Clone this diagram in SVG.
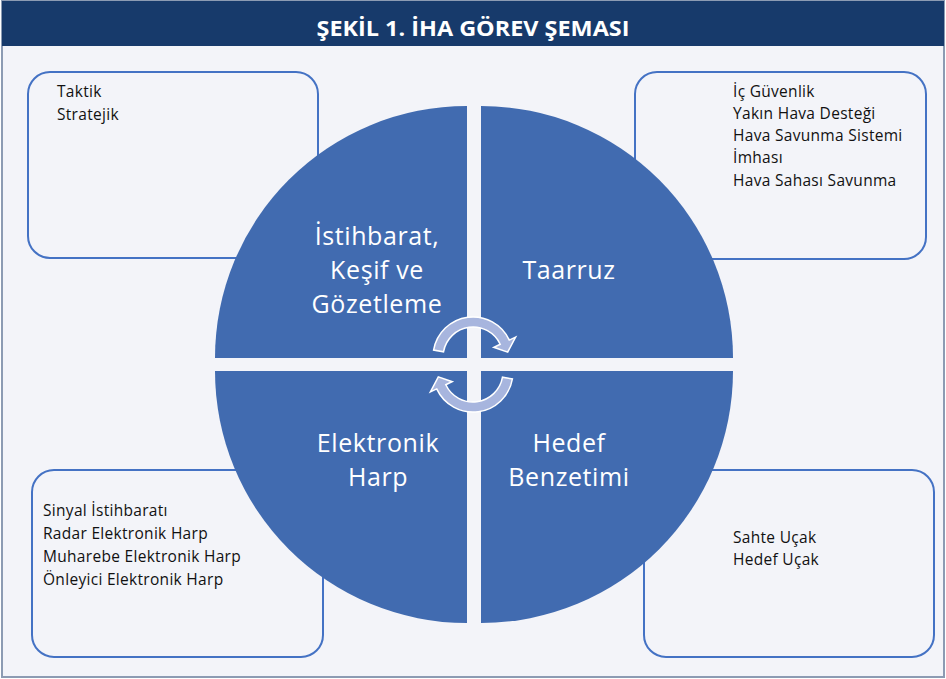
<svg xmlns="http://www.w3.org/2000/svg" width="946" height="679" viewBox="0 0 946 679">
<style>
.frame{fill:#F3F4F9;stroke:#8C9BB3;stroke-width:2}
.box{fill:#F3F4F9;stroke:#4472C4;stroke-width:2}
.quad{fill:#416BB0}
.arrow{fill:#A7B5DE;stroke:#FFFFFF;stroke-width:1.5}
.lbl{font-family:"Open Sans","Noto Sans",sans-serif;font-size:15.5px;letter-spacing:0.3px;fill:#111111}
.ql{font-family:"Open Sans","Noto Sans",sans-serif;font-size:25px;letter-spacing:0.6px;fill:#FFFFFF;text-anchor:middle}
.title{font-family:"Open Sans","Noto Sans",sans-serif;font-size:21px;font-weight:bold;fill:#FFFFFF;text-anchor:middle}
</style>
<rect class="frame" x="2" y="1" width="942" height="676"/>
<g id="header">
<rect x="2" y="1" width="942" height="45" fill="#173A6B"/>
<text class="title" x="473" y="36" textLength="313" lengthAdjust="spacingAndGlyphs">ŞEKİL 1. İHA GÖREV ŞEMASI</text>
</g>
<g id="box-tl">
<rect class="box" x="28" y="72" width="290" height="186" rx="22"/>
<text class="lbl" x="57" y="97">Taktik</text>
<text class="lbl" x="57" y="120">Stratejik</text>
</g>
<g id="box-tr">
<rect class="box" x="635" y="72" width="291" height="187" rx="22"/>
<text class="lbl" x="733" y="97">İç Güvenlik</text>
<text class="lbl" x="733" y="119">Yakın Hava Desteği</text>
<text class="lbl" x="733" y="141">Hava Savunma Sistemi</text>
<text class="lbl" x="733" y="162.5">İmhası</text>
<text class="lbl" x="733" y="186">Hava Sahası Savunma</text>
</g>
<g id="box-bl">
<rect class="box" x="32" y="470" width="291" height="187" rx="22"/>
<text class="lbl" x="43" y="516">Sinyal İstihbaratı</text>
<text class="lbl" x="43" y="539">Radar Elektronik Harp</text>
<text class="lbl" x="43" y="562">Muharebe Elektronik Harp</text>
<text class="lbl" x="43" y="585">Önleyici Elektronik Harp</text>
</g>
<g id="box-br">
<rect class="box" x="644" y="470" width="290" height="187" rx="22"/>
<text class="lbl" x="733" y="543">Sahte Uçak</text>
<text class="lbl" x="733" y="565">Hedef Uçak</text>
</g>
<g id="quad-istihbarat">
<path class="quad" d="M467,358 L215,358 A252,252 0 0 1 467,106 Z"/>
<text class="ql" x="377" y="245">İstihbarat,</text>
<text class="ql" x="377" y="279">Keşif ve</text>
<text class="ql" x="377" y="313">Gözetleme</text>
</g>
<g id="quad-taarruz">
<path class="quad" d="M481,358 L481,106 A252,252 0 0 1 733,358 Z"/>
<text class="ql" x="569" y="279">Taarruz</text>
</g>
<g id="quad-elektronik">
<path class="quad" d="M467,371 L467,623 A252,252 0 0 1 215,371 Z"/>
<text class="ql" x="378" y="452">Elektronik</text>
<text class="ql" x="378" y="486">Harp</text>
</g>
<g id="quad-hedef">
<path class="quad" d="M481,371 L733,371 A252,252 0 0 1 481,623 Z"/>
<text class="ql" x="569" y="452">Hedef</text>
<text class="ql" x="569" y="486">Benzetimi</text>
</g>
<g id="connectors">
<path id="arrow-top" class="arrow" d="M433.6,350.1 A40,40 0 0 1 509.3,340.1 L515.6,337.1 L507.7,352.1 L493.8,347.3 L500.2,344.3 A30,30 0 0 0 443.5,351.8 Z"/>
<path id="arrow-bottom" class="arrow" transform="rotate(180 473 364.5)" d="M433.6,350.1 A40,40 0 0 1 509.3,340.1 L515.6,337.1 L507.7,352.1 L493.8,347.3 L500.2,344.3 A30,30 0 0 0 443.5,351.8 Z"/>
</g>
</svg>
